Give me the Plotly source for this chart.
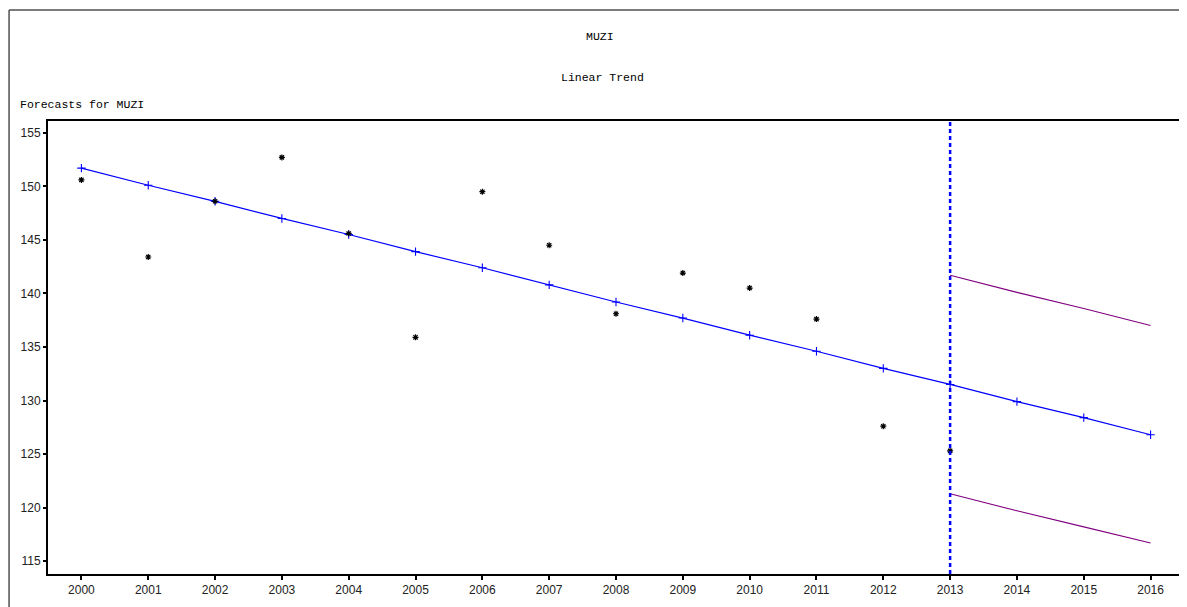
import plotly.graph_objects as go

years_actual = [2000, 2001, 2002, 2003, 2004, 2005, 2006, 2007, 2008, 2009, 2010, 2011, 2012, 2013]
actual = [150.6, 143.4, 148.6, 152.7, 145.6, 135.9, 149.5, 144.5, 138.1, 141.9, 140.5, 137.6, 127.6, 125.3]

years_fit = list(range(2000, 2017))
fitted = [151.7, 150.1, 148.6, 147.0, 145.5, 143.9, 142.4, 140.8, 139.2, 137.7,
          136.1, 134.6, 133.0, 131.5, 129.9, 128.4, 126.8]

years_fc = [2013, 2014, 2015, 2016]
upper = [141.7, 140.1, 138.6, 137.0]
lower = [121.3, 119.7, 118.2, 116.7]

forecast_start = 2013
y_ticks = [115, 120, 125, 130, 135, 140, 145, 150, 155]

# page offset (browser body margin)
OFF = 8
W, H = 1187 - OFF, 607 - OFF
L, R, T, B = 48, 1186, 121, 574   # target pixel positions in the window

fig = go.Figure()

fig.add_trace(go.Scatter(x=years_fit, y=fitted, mode="lines+markers",
                         line=dict(color="#0000ff", width=1.2),
                         marker=dict(symbol="cross-thin-open", size=6, color="#0000ff",
                                     line=dict(color="#0000ff", width=1.1)),
                         showlegend=False))
fig.add_trace(go.Scatter(x=years_fc, y=upper, mode="lines",
                         line=dict(color="#800080", width=1.1), showlegend=False))
fig.add_trace(go.Scatter(x=years_fc, y=lower, mode="lines",
                         line=dict(color="#800080", width=1.1), showlegend=False))
fig.add_trace(go.Scatter(x=years_actual, y=actual, mode="markers",
                         marker=dict(symbol="asterisk-open", size=5, color="#000000",
                                     line=dict(color="#000000", width=1.2)),
                         showlegend=False))

fig.add_shape(type="line", xref="x", yref="paper", x0=forecast_start, x1=forecast_start,
              y0=0, y1=1, line=dict(color="#0000ff", width=2.5, dash="4px,3px"))

pw = R - L
ph = B - T
def px(x):
    return (x - L) / pw
def py(y):
    return (B - y) / ph

# outer frame (left and top lines)
fig.add_shape(type="line", xref="paper", yref="paper", x0=px(9), x1=px(9),
              y0=py(10), y1=py(620), line=dict(color="#505050", width=1.5))
fig.add_shape(type="line", xref="paper", yref="paper", x0=px(9), x1=px(1200),
              y0=py(10), y1=py(10), line=dict(color="#505050", width=1.5))

title_font = dict(family="Liberation Mono, Courier New, monospace", size=11.5, color="#000000")
fig.add_annotation(text="MUZI", xref="paper", yref="paper", x=px(601), y=py(37),
                   showarrow=False, font=title_font, xanchor="center", yanchor="middle")
fig.add_annotation(text="Linear Trend", xref="paper", yref="paper", x=px(603), y=py(78),
                   showarrow=False, font=title_font, xanchor="center", yanchor="middle")
fig.add_annotation(text="Forecasts for MUZI", xref="paper", yref="paper", x=px(18), y=py(104),
                   showarrow=False, font=title_font, xanchor="left", yanchor="middle")

axis_font = dict(family="Liberation Sans, Arial, sans-serif", size=12, color="#222222")
fig.update_xaxes(range=[1999.5, 2016.5], tickvals=years_fit, ticktext=[str(y) for y in years_fit],
                 showgrid=False, zeroline=False, showline=True, mirror=True,
                 linecolor="#000000", linewidth=2, ticks="outside", ticklen=4,
                 tickwidth=2, tickcolor="#000000", tickfont=axis_font)
fig.update_yaxes(range=[113.8, 156.1], tickvals=y_ticks, ticktext=[str(v) for v in y_ticks],
                 showgrid=False, zeroline=False, showline=True, mirror=True,
                 linecolor="#000000", linewidth=2, ticks="outside", ticklen=3,
                 tickwidth=2, tickcolor="#000000", tickfont=axis_font)

fig.update_layout(width=W, height=H,
                  margin=dict(l=L - OFF, r=(W + OFF) - R, t=T - OFF, b=(H + OFF) - B),
                  plot_bgcolor="#ffffff", paper_bgcolor="#ffffff", showlegend=False)

fig.write_html("out.html")
